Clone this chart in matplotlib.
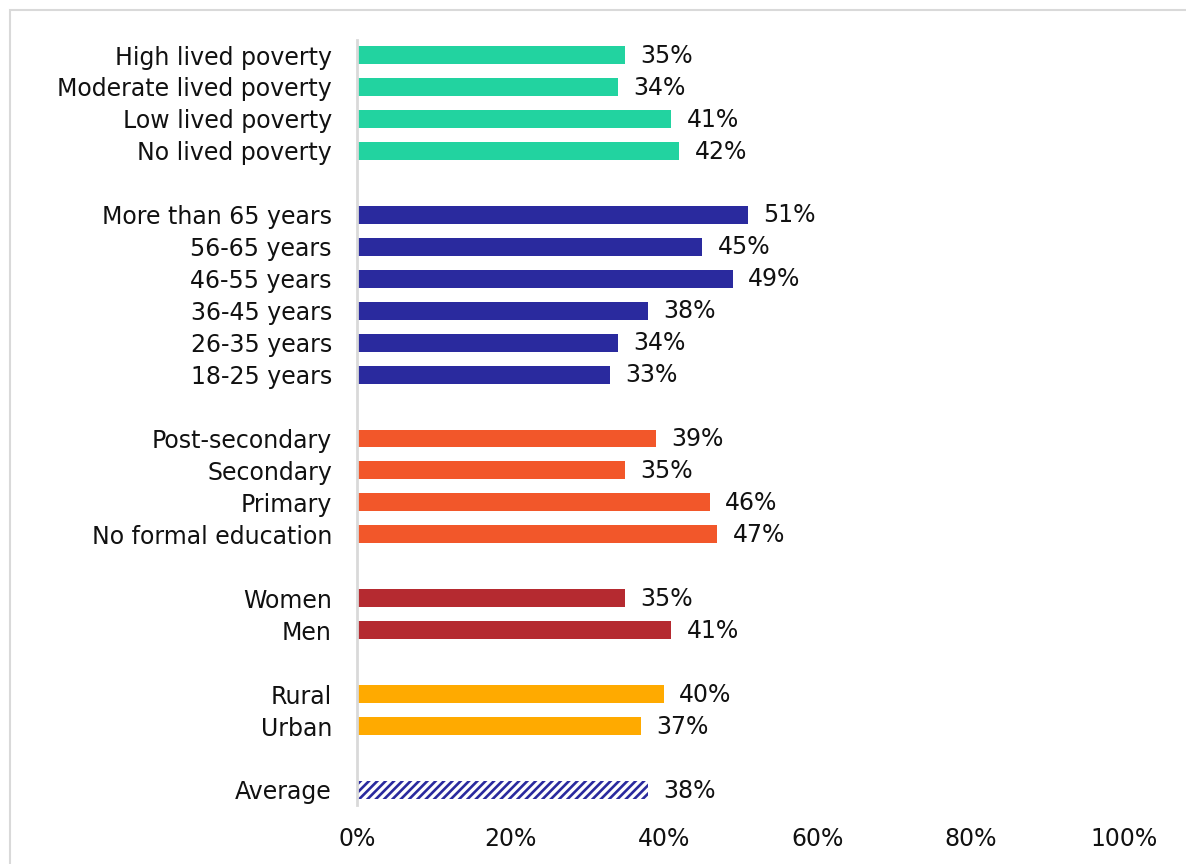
import matplotlib
matplotlib.use("Agg")
import matplotlib.pyplot as plt
from matplotlib.patches import Rectangle

plt.rcParams['font.family'] = ['DejaVu Sans']
plt.rcParams['hatch.linewidth'] = 1.9

poverty_labels = ["High lived poverty", "Moderate lived poverty", "Low lived poverty", "No lived poverty"]
poverty_values = [35, 34, 41, 42]
age_labels = ["More than 65 years", "56-65 years", "46-55 years", "36-45 years", "26-35 years", "18-25 years"]
age_values = [51, 45, 49, 38, 34, 33]
edu_labels = ["Post-secondary", "Secondary", "Primary", "No formal education"]
edu_values = [39, 35, 46, 47]
gender_labels = ["Women", "Men"]
gender_values = [35, 41]
location_labels = ["Rural", "Urban"]
location_values = [40, 37]
average_label = "Average"
average_value = 38

groups = [
    (poverty_labels, poverty_values, "#22D3A0", None),
    (age_labels, age_values, "#2A2A9E", None),
    (edu_labels, edu_values, "#F2572A", None),
    (gender_labels, gender_values, "#B52A30", None),
    (location_labels, location_values, "#FFAA00", None),
    ([average_label], [average_value], "#2A2A9E", "hatch"),
]

FS = 17
W, H = 1186, 864
fig = plt.figure(figsize=(W / 100, H / 100), dpi=100)
fig.patches.append(Rectangle((10 / W, -0.01), 1.1, 1 - 10 / H + 0.01, transform=fig.transFigure,
                             fill=False, edgecolor="#D9D9D9", linewidth=1.5))
ax = fig.add_axes([357 / W, 1 - 805 / H, (1124 - 357) / W, (805 - 40) / H])

pos = 0
yticks, ylabels = [], []
for labels, values, color, style in groups:
    for lab, val in zip(labels, values):
        if style == "hatch":
            ax.barh(pos, val, height=0.56, facecolor="white", edgecolor=color, hatch="////", linewidth=0)
        else:
            ax.barh(pos, val, height=0.56, color=color)
        ax.annotate(f"{val}%", (val, pos), xytext=(11, -0.5), textcoords="offset points",
                    va="center", ha="left", fontsize=FS, color="#111111")
        yticks.append(pos)
        ylabels.append(lab)
        pos += 1
    pos += 1
last = pos - 2

ax.set_ylim(last + 0.47, -0.47)
ax.set_xlim(0, 100)
ax.set_yticks(yticks)
ax.set_yticklabels(ylabels, fontsize=FS, color="#111111")
ax.set_xticks([0, 20, 40, 60, 80, 100])
ax.set_xticklabels([f"{v}%" for v in [0, 20, 40, 60, 80, 100]], fontsize=FS, color="#111111")
ax.tick_params(axis="y", length=0, pad=18)
ax.tick_params(axis="x", length=0, pad=16)
for s in ["top", "right", "bottom"]:
    ax.spines[s].set_visible(False)
ax.spines["left"].set_color("#D9D9D9")
ax.spines["left"].set_linewidth(2)

fig.savefig("out.png", dpi=100)
